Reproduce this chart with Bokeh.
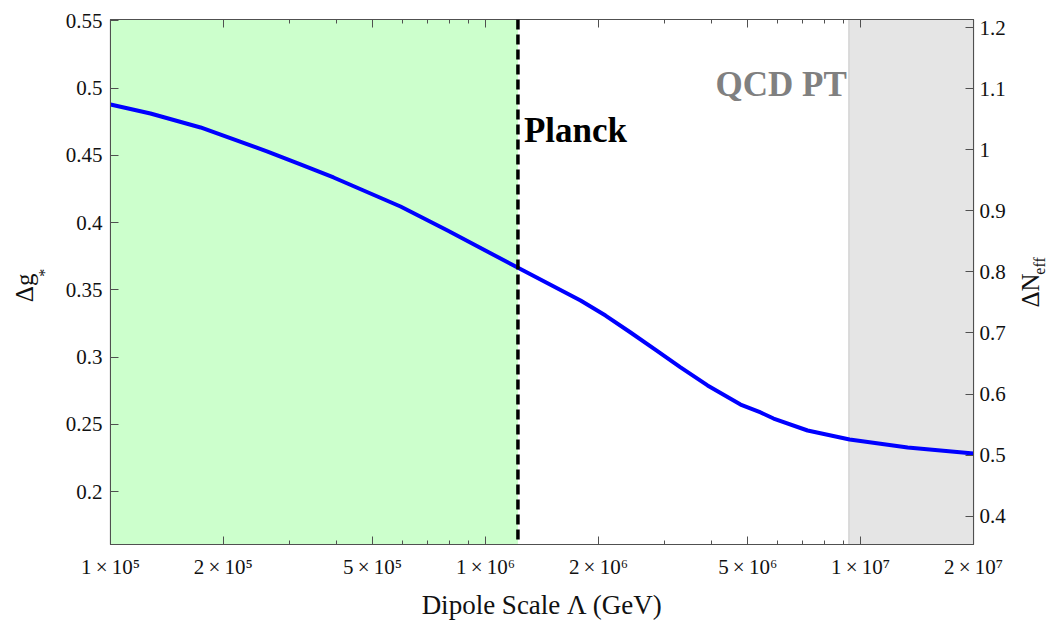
import math

from bokeh.plotting import figure
from bokeh.layouts import row
from bokeh.models import (Range1d, LinearAxis, LogAxis, FixedTicker, CustomJSTickFormatter,
                          BoxAnnotation, Span, Label)
from bokeh.embed import file_html
from bokeh.resources import INLINE

# Dipole scale (GeV) and extra relativistic degrees of freedom
lambda_gev = [1.0e5, 1.278e5, 1.738e5, 2.623e5, 3.21e5, 3.933e5, 5.933e5, 7.92e5,
              1.217e6, 1.792e6, 2.089e6, 2.436e6, 2.841e6, 3.311e6, 3.908e6, 4.786e6,
              5.412e6, 5.861e6, 7.222e6, 9.348e6, 1.335e7, 2.0e7]
delta_g = [0.4879, 0.4812, 0.4708, 0.4529, 0.4433, 0.4336, 0.4120, 0.3942,
           0.3666, 0.3421, 0.3309, 0.3183, 0.3053, 0.2923, 0.2789, 0.2647,
           0.2588, 0.2543, 0.2454, 0.2387, 0.2328, 0.2283]

planck_scale = 1.22e6      # Planck bound on the dipole scale
qcd_scale = 9.3e6          # onset of the QCD phase transition region

x_major = [1e5, 2e5, 5e5, 1e6, 2e6, 5e6, 1e7, 2e7]
x_minor = [3e5, 4e5, 6e5, 7e5, 8e5, 9e5, 3e6, 4e6, 6e6, 7e6, 8e6, 9e6]
g_ticks = [0.2, 0.25, 0.3, 0.35, 0.4, 0.45, 0.5, 0.55]
neff_ticks = [0.4, 0.5, 0.6, 0.7, 0.8, 0.9, 1.0, 1.1, 1.2]

# Delta N_eff = (4/7) (11/4)^(4/3) Delta g_*
NEFF_PER_G = (4.0 / 7.0) * (11.0 / 4.0) ** (4.0 / 3.0)
G_LO, G_HI = 0.1606, 0.5511

SERIF = "Liberation Serif"
AXIS_COLOR = "#505050"
TEXT_COLOR = "#111111"
H = 622
LEFT_W, RIGHT_W = 60, 42

p = figure(width=1054 - LEFT_W - RIGHT_W, height=H, x_axis_type="log",
           x_range=Range1d(1e5, 2e7), y_range=Range1d(G_LO, G_HI),
           output_backend="svg", toolbar_location=None,
           min_border_left=50, min_border_right=39,
           min_border_top=19, min_border_bottom=78)
p.extra_y_ranges = {"neff": Range1d(G_LO * NEFF_PER_G, G_HI * NEFF_PER_G)}
p.grid.visible = False
p.outline_line_color = AXIS_COLOR
p.outline_line_width = 1.2
p.background_fill_color = "white"
p.border_fill_color = "white"

sci_fmt = CustomJSTickFormatter(code="""
    const sup = {"0":"\u2070","1":"\u00b9","2":"\u00b2","3":"\u00b3","4":"\u2074",
                 "5":"\u2075","6":"\u2076","7":"\u2077","8":"\u2078","9":"\u2079"};
    const e = Math.floor(Math.log10(tick) + 1e-9);
    const m = Math.round(tick / Math.pow(10, e));
    return m + "\u2009\u00d7\u200910" + String(e).split("").map(c => sup[c]).join("");
""")
dec_fmt = CustomJSTickFormatter(code="return String(+tick.toFixed(2));")
blank_fmt = CustomJSTickFormatter(code="return '';")


def style_axis(ax):
    ax.axis_line_color = AXIS_COLOR
    ax.major_tick_line_color = AXIS_COLOR
    ax.minor_tick_line_color = AXIS_COLOR
    ax.major_tick_in = 8
    ax.major_tick_out = 0
    ax.minor_tick_in = 4
    ax.minor_tick_out = 0
    ax.major_label_text_font = SERIF
    ax.major_label_text_font_size = "21px"
    ax.major_label_text_color = TEXT_COLOR
    ax.axis_label_text_font = SERIF
    ax.axis_label_text_font_style = "normal"
    ax.axis_label_text_color = TEXT_COLOR


# bottom axis
xax = p.xaxis[0]
xax.ticker = FixedTicker(ticks=x_major, minor_ticks=x_minor)
xax.formatter = sci_fmt
style_axis(xax)
xax.major_label_standoff = 10
xax.axis_label = "Dipole Scale \u039b (GeV)"
xax.axis_label_text_font_size = "27px"
xax.axis_label_standoff = 8

# left axis
yax = p.yaxis[0]
yax.ticker = FixedTicker(ticks=g_ticks)
yax.formatter = dec_fmt
style_axis(yax)
yax.major_label_standoff = 8

# mirrored top axis (ticks only)
top = LogAxis(ticker=FixedTicker(ticks=x_major, minor_ticks=x_minor), formatter=blank_fmt)
style_axis(top)
top.major_label_text_font_size = "1px"
top.major_label_standoff = 0
p.add_layout(top, "above")

# right axis in Delta N_eff
rax = LinearAxis(y_range_name="neff", ticker=FixedTicker(ticks=neff_ticks), formatter=dec_fmt)
style_axis(rax)
rax.major_label_standoff = 6
p.add_layout(rax, "right")

# allowed region and QCD phase transition band
p.add_layout(BoxAnnotation(left=1e5, right=planck_scale, fill_color="#ccffcc",
                           fill_alpha=1.0, line_alpha=0, level="underlay"))
p.add_layout(BoxAnnotation(left=qcd_scale, right=2e7, fill_color="#e5e5e5",
                           fill_alpha=1.0, line_color="#808080", line_width=1.2,
                           level="underlay"))

p.line(lambda_gev, delta_g, line_color="#0000ff", line_width=4, line_join="round")

p.add_layout(Span(location=planck_scale, dimension="height", line_color="black",
                  line_width=3.5, line_dash="10 5"))

p.add_layout(Label(x=planck_scale, y=0.4537, x_offset=6, text="Planck",
                   text_font=SERIF, text_font_style="bold", text_font_size="35px",
                   text_color="black"))
p.add_layout(Label(x=qcd_scale, y=0.4879, x_offset=-2, text="QCD PT", text_align="right",
                   text_font=SERIF, text_font_style="bold", text_font_size="35px",
                   text_color="#808080"))


def side_panel(w):
    s = figure(width=w, height=H, x_range=Range1d(0, w), y_range=Range1d(0, H),
               output_backend="svg", toolbar_location=None,
               x_axis_location=None, y_axis_location=None,
               min_border=0, min_border_left=0, min_border_right=0,
               min_border_top=0, min_border_bottom=0)
    s.grid.visible = False
    s.outline_line_color = None
    s.background_fill_color = "white"
    s.border_fill_color = "white"
    return s


def rotated(x, y, text, size):
    return Label(x=x, y=y, angle=math.pi / 2, text=text, text_font=SERIF,
                 text_font_size=size, text_color=TEXT_COLOR,
                 text_baseline="middle", text_align="center")


# rotated axis titles with subscripts
left_panel = side_panel(LEFT_W)
left_panel.add_layout(rotated(24, H - 318, "\u0394g", "25px"))
left_panel.add_layout(rotated(43.5, H - 300, "*", "16px"))

right_panel = side_panel(RIGHT_W)
right_panel.add_layout(rotated(17.5, H - 321, "\u0394N", "25px"))
right_panel.add_layout(rotated(26.5, H - 292, "eff", "16px"))

layout = row(left_panel, p, right_panel, spacing=0)

open("out.html", "w").write(file_html(layout, INLINE))
